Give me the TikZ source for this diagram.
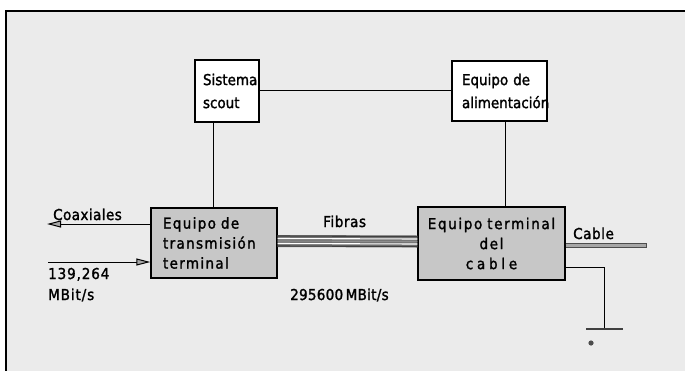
\documentclass[tikz,border=0pt]{standalone}
\usepackage{fontspec}
\setmainfont{DejaVu Sans Condensed}[FakeBold=1.6]
\usetikzlibrary{arrows.meta,calc}
\tikzset{
  box/.style={draw=black, line width=1.4pt, inner ysep=0pt, align=left},
  topbox/.style={box, fill=white},
  lowbox/.style={box, fill=black!22},
  lbl/.style={inner sep=0pt, anchor=base west},
  conn/.style={line width=1pt, black},
  arr/.style={line width=1pt, -{Triangle[length=14pt,width=7pt,fill=black!35]}},
}
\begin{document}
\begin{tikzpicture}[x=1pt,y=-1pt]
\useasboundingbox (0,0) rectangle (685,370);
\clip (0,0) rectangle (685,370);
% frame and background
\draw[line width=1.5pt, fill=black!8] (6,11) rectangle (700,400);

% boxes
\node[topbox, inner xsep=8pt, text width=48pt, minimum height=62pt,
      font=\fontsize{15}{23}\selectfont] (sis) at (227,91) {Sistema\\scout};
\node[topbox, inner xsep=10pt, text width=75pt, minimum height=60pt,
      font=\fontsize{15}{23}\selectfont] (ali) at (499.5,91) {Equipo de\\alimentación};
\node[lowbox, inner xsep=12pt, text width=102pt, minimum height=70pt,
      font=\fontsize{15}{20}\selectfont\addfontfeature{LetterSpace=9}] (tx) at (214,243)
      {Equipo de\\transmisión\\terminal};
\node[lowbox, inner xsep=4pt, text width=139pt, minimum height=73pt, align=center,
      font=\fontsize{15}{20}\selectfont\addfontfeature{LetterSpace=11}] (tc) at (491.5,243.5)
      {Equipo terminal\\del\\{\addfontfeature{LetterSpace=25}cable}};

% connectors between boxes
\draw[conn] (sis.east |- 0,90) -- (ali.west |- 0,90);
\draw[conn] ([xshift=19pt]sis.south west) -- ([xshift=19pt]sis.south west |- tx.north);
\draw[conn] ([xshift=54pt]ali.south west) -- ([xshift=54pt]ali.south west |- tc.north);

% fibre bundle
\draw[line width=12pt, black!55] ([yshift=2pt]tx.east) -- ([yshift=2pt]tc.west);
\foreach \o/\c in {-5/black!75, -2.5/white, 0/black!45, 2.5/white, 5/black!75}
  \draw[line width=1.1pt, \c] ([yshift=2pt+\o pt]tx.east) -- ([yshift=2pt+\o pt]tc.west);

% cable
\coordinate (cend) at (647,245.5);
\draw[line width=5pt, black!70] (tc.east |- cend) -- (cend);
\draw[line width=2.5pt, black!35] (tc.east |- cend) -- ([xshift=-0.8pt]cend);

% ground
\coordinate (gnd) at (604,329);
\draw[conn] (tc.east |- 0,267) -| (gnd);
\draw[line width=2.4pt, black!75] (586,329) -- (623,329);
\fill[black!70] (591,343) circle (2.6pt);

% coax arrows
\coordinate (coaxend) at (47,224);
\coordinate (instart) at (48,262);
\draw[arr] (tx.west |- coaxend) -- (coaxend);
\draw[arr] (instart) -- (tx.west |- instart);

% labels
\node[lbl, font=\fontsize{15}{20}\selectfont\addfontfeature{LetterSpace=3}] (coax) at (53,220) {Coaxiales};
\node[lbl, font=\fontsize{15}{20}\selectfont\addfontfeature{LetterSpace=6}] (r1) at (48,279) {139,264};
\node[lbl, font=\fontsize{15}{20}\selectfont\addfontfeature{LetterSpace=6}] (r2) at (48,300) {MBit/s};
\node[lbl, font=\fontsize{15}{20}\selectfont\addfontfeature{LetterSpace=4}] (fib) at (323,227) {Fibras};
\node[lbl, font=\fontsize{15}{20}\selectfont\addfontfeature{LetterSpace=2}] (rate) at (290,300) {295600\,MBit/s};
\node[lbl, font=\fontsize{15}{20}\selectfont\addfontfeature{LetterSpace=4}] (cab) at (573,239) {Cable};
\end{tikzpicture}
\end{document}
